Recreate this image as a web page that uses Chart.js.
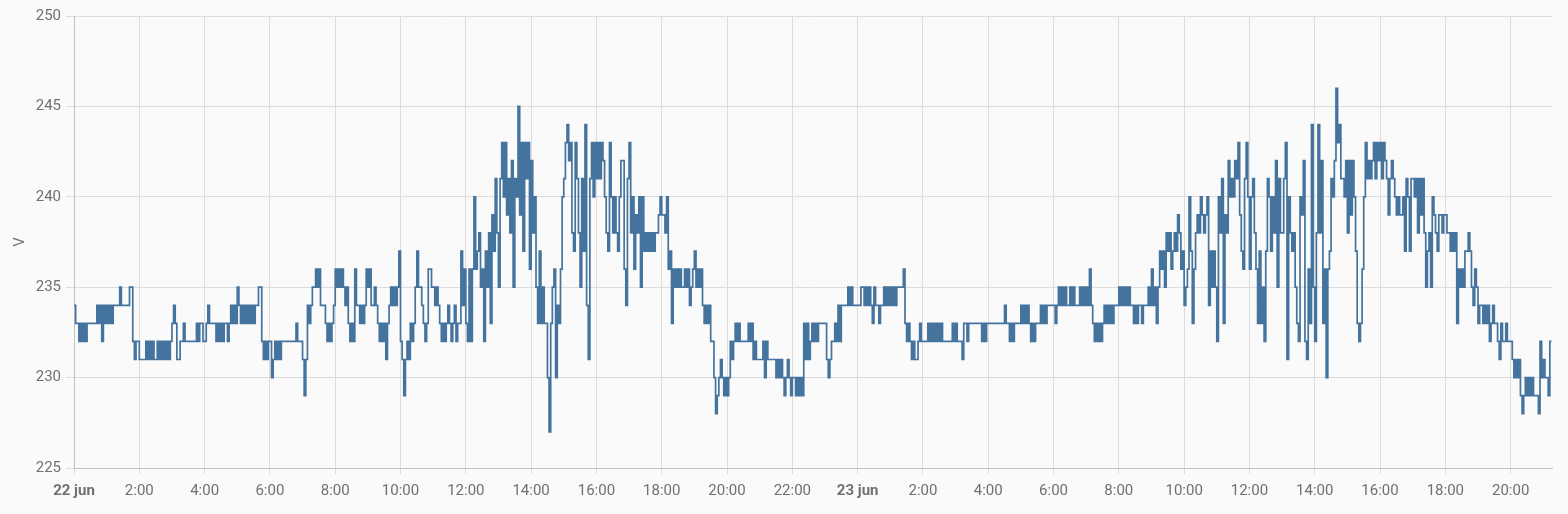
<!DOCTYPE html>
<html>
<head>
<meta charset="utf-8">
<script src="https://cdn.jsdelivr.net/npm/chart.js"></script>
<style>
  html, body { margin: 0; padding: 0; background: #fafafa; }
  #wrap { width: 1568px; height: 514px; }
  canvas { display: block; }
</style>
</head>
<body>
<div id="wrap"><canvas id="c" width="1568" height="514"></canvas></div>
<script>
// Each array covers 6 hours; one line = one hour (20 samples).
const sampleMinutes = 3;
const dayLabels = ['22 jun', '23 jun'];
const yTicks = [225, 230, 235, 240, 245, 250];

// 22 jun 00:00 - 05:57
const d1_00 = [
  234,233,233,232,233,232,233,232,233,233,233,233,233,233,234,233,234,232,234,233,
  234,233,234,233,234,234,234,234,235,234,234,234,234,234,235,235,232,231,232,232,
  231,231,231,231,232,231,232,231,232,231,231,232,231,232,231,232,231,232,231,232,
  233,234,233,231,231,232,232,233,232,232,232,232,232,232,232,233,232,233,233,232,
  232,233,234,233,233,233,233,232,233,232,233,232,233,233,232,233,234,233,234,233,
  235,234,233,234,233,234,233,234,233,234,233,234,234,235,235,232,231,232,231,232
];
// 22 jun 06:00 - 11:57
const d1_06 = [
  232,230,231,232,231,232,231,232,232,232,232,232,232,232,232,232,233,232,232,232,
  231,229,231,234,233,234,235,235,236,235,236,234,234,234,233,232,233,232,233,234,
  236,235,236,235,236,235,234,235,233,232,233,232,236,234,234,233,234,233,234,236,
  235,236,234,234,235,234,233,232,233,232,233,231,233,234,235,234,235,234,235,237,
  232,231,229,231,232,231,233,232,233,235,237,235,235,234,233,232,233,236,236,235,
  235,234,235,234,233,232,233,232,233,234,233,232,233,234,232,233,233,237,234,236
];
// 22 jun 12:00 - 17:57
const d1_12 = [
  233,232,236,232,236,240,236,237,238,235,236,232,237,235,238,233,239,237,241,238,
  235,241,243,240,243,239,241,238,242,235,241,240,245,239,243,237,243,241,243,236,
  242,238,240,235,233,237,233,235,233,233,230,227,233,235,236,230,234,233,236,240,
  241,243,244,242,243,238,237,243,241,238,235,241,237,244,234,231,241,243,240,243,
  241,243,241,243,242,240,238,237,243,240,238,240,238,237,240,242,242,236,234,241,
  243,238,240,236,239,238,240,235,240,237,238,237,238,237,238,237,238,238,239,240
];
// 22 jun 18:00 - 23:57
const d1_18 = [
  239,239,238,240,236,237,233,236,235,236,235,236,235,235,236,235,236,234,235,236,
  237,235,236,235,236,234,233,234,233,234,232,232,230,228,229,230,231,230,229,230,
  229,230,232,231,232,233,232,233,232,232,232,232,232,233,232,233,231,232,231,231,
  231,231,232,230,232,231,231,231,231,231,230,231,230,231,230,229,230,231,230,229,
  230,230,229,230,229,230,229,233,231,233,231,232,233,232,233,232,233,233,233,233,
  233,231,230,231,232,232,233,232,234,232,234,234,234,234,235,234,235,234,234,234
];
// 23 jun 00:00 - 05:57
const d2_00 = [
  234,234,235,235,234,235,234,235,234,233,235,234,234,233,234,234,235,234,235,234,
  235,234,235,234,235,235,235,235,236,233,232,233,232,231,232,231,231,232,233,232,
  232,232,232,233,232,233,232,233,232,233,232,233,232,232,232,232,232,232,233,232,
  233,232,232,232,231,233,233,232,233,233,233,233,233,233,233,233,232,233,232,233,
  233,233,233,233,233,233,233,233,233,233,234,233,233,232,233,232,233,233,233,233,
  234,233,234,233,234,233,232,233,232,233,233,233,234,233,234,233,234,234,234,234
];
// 23 jun 06:00 - 11:57
const d2_06 = [
  234,233,234,235,234,235,234,235,234,234,235,234,235,234,234,234,235,234,235,234,
  235,234,236,234,233,232,233,232,233,232,233,234,233,234,233,234,233,234,234,234,
  235,234,235,234,235,234,235,234,234,233,234,233,234,234,233,234,234,234,235,234,
  236,234,235,233,235,237,236,237,235,238,237,238,236,237,238,237,239,238,236,237,
  234,235,236,240,237,233,236,238,239,238,240,239,238,239,240,234,237,235,237,235,
  232,240,238,241,233,239,238,242,240,241,240,242,241,243,239,237,236,241,243,240
];
// 23 jun 12:00 - 17:57
const d2_12 = [
  236,240,241,238,236,233,237,233,235,232,237,241,240,237,240,238,242,235,241,238,
  238,241,243,231,240,238,237,238,235,233,232,240,239,242,232,231,236,233,244,235,
  232,238,244,238,242,233,236,230,236,237,241,240,242,246,243,244,241,241,240,242,
  238,242,239,242,240,237,233,232,233,236,240,243,241,242,241,242,243,241,243,242,
  243,241,243,242,241,239,241,242,241,240,239,240,239,239,240,237,241,240,237,241,
  241,240,241,238,241,239,241,238,235,237,238,235,240,239,238,237,239,239,238,239
];
// 23 jun 18:00 - 21:15
const d2_18 = [
  239,238,238,237,238,237,238,233,236,235,236,235,237,237,238,237,235,234,236,235,
  233,234,234,233,234,233,234,232,233,234,233,233,232,231,233,232,232,233,232,232,
  232,231,230,231,230,231,229,228,229,230,229,230,229,230,229,229,229,228,232,230,
  231,230,230,229,232,232
];

const blocks = [d1_00, d1_06, d1_12, d1_18, d2_00, d2_06, d2_12, d2_18];
const blockStartMinutes = [0, 360, 720, 1080, 1440, 1800, 2160, 2520];
const xMaxMinutes = 2716;

const points = [];
blocks.forEach((arr, b) => {
  arr.forEach((v, i) => points.push({ x: blockStartMinutes[b] + i * sampleMinutes, y: v }));
});

const tickColor = '#707070';
const gridColor = '#dcdcdc';
const borderColor = '#c0c0c0';
const fontSize = 15;

new Chart(document.getElementById('c'), {
  type: 'line',
  data: {
    datasets: [{
      label: 'V',
      data: points,
      borderColor: '#44739e',
      backgroundColor: '#44739e',
      borderWidth: 1.7,
      pointRadius: 0,
      stepped: 'before',
      fill: false,
      tension: 0
    }]
  },
  options: {
    responsive: false,
    animation: false,
    devicePixelRatio: 1,
    layout: { padding: { left: 0, right: 16, top: 16, bottom: 0 } },
    plugins: { legend: { display: false }, tooltip: { enabled: false } },
    scales: {
      x: {
        type: 'linear',
        min: 0,
        max: xMaxMinutes,
        afterFit: (s) => { s.height = 46; },
        grid: { color: gridColor, tickLength: 6, drawTicks: true },
        border: { color: borderColor },
        ticks: {
          stepSize: 120,
          includeBounds: false,
          autoSkip: false,
          maxRotation: 0,
          padding: 8,
          color: tickColor,
          font: (ctx) => ({
            family: 'Roboto',
            size: fontSize,
            weight: (ctx.tick && ctx.tick.value % 1440 === 0) ? 'bold' : 'normal'
          }),
          callback: (v) => {
            if (v % 1440 === 0) return dayLabels[v / 1440];
            return ((v % 1440) / 60) + ':00';
          }
        }
      },
      y: {
        min: yTicks[0],
        max: yTicks[yTicks.length - 1],
        afterFit: (s) => { s.width = 74; },
        afterBuildTicks: (s) => { s.ticks = yTicks.map(v => ({ value: v })); },
        grid: { color: gridColor, tickLength: 8 },
        border: { color: borderColor },
        ticks: {
          padding: 5,
          color: tickColor,
          font: { family: 'Roboto', size: fontSize }
        },
        title: {
          display: true,
          text: 'V',
          color: tickColor,
          font: { family: 'Roboto', size: fontSize },
          padding: { top: 11, bottom: 0 }
        }
      }
    }
  }
});
</script>
</body>
</html>
